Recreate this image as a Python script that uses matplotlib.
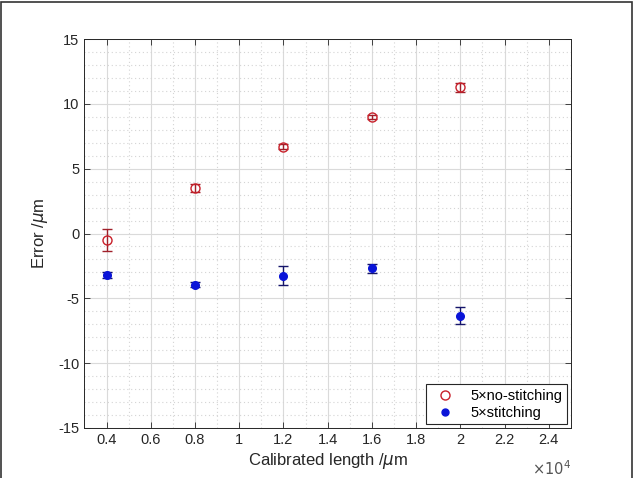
import matplotlib.pyplot as plt
from matplotlib.ticker import MultipleLocator, FuncFormatter
from matplotlib.patches import Rectangle
from matplotlib.lines import Line2D

# data (x in micrometres)
length = [4000, 8000, 12000, 16000, 20000]
nostitch_err = [-0.5, 3.5, 6.7, 9.0, 11.3]
nostitch_sd = [0.85, 0.3, 0.2, 0.15, 0.35]
stitch_err = [-3.2, -3.95, -3.25, -2.7, -6.35]
stitch_sd = [0.2, 0.2, 0.75, 0.35, 0.65]

plt.rcParams["font.family"] = ["Liberation Sans", "DejaVu Sans"]
plt.rcParams["axes.unicode_minus"] = False

red = "#c8202a"
blue = "#0a14d8"

fig = plt.figure(figsize=(6.35, 4.78), dpi=100)
ax = fig.add_axes([0.133, 0.105, 0.766, 0.813])

ax.errorbar(length, nostitch_err, yerr=nostitch_sd, fmt="o", mfc="none",
            mec=red, ms=6.5, mew=1.0, ecolor="#a0202a", elinewidth=1.0,
            capsize=3.5, zorder=3)
ax.errorbar(length, stitch_err, yerr=stitch_sd, fmt="o", color=blue,
            ms=5.5, ecolor="#15156a", elinewidth=1.0, capsize=3.5, zorder=3)

ax.set_xlim(3000, 25000)
ax.set_ylim(-15, 15)
ax.xaxis.set_major_locator(MultipleLocator(2000))
ax.xaxis.set_minor_locator(MultipleLocator(1000))
ax.yaxis.set_major_locator(MultipleLocator(5))
ax.yaxis.set_minor_locator(MultipleLocator(1))
ax.xaxis.set_major_formatter(FuncFormatter(lambda v, p: f"{v / 1e4:g}"))

ax.grid(which="major", color="#dadada", lw=0.8)
ax.grid(which="minor", color="#d4d4d4", lw=0.8, ls=(0, (1, 2.5)))
ax.set_axisbelow(True)

ax.tick_params(which="both", direction="in", top=True, right=True,
               colors="#262626", labelsize=10.5, width=0.6)
ax.tick_params(which="major", length=4)
ax.tick_params(which="minor", length=0)
for s in ax.spines.values():
    s.set_color("#262626")
    s.set_linewidth(0.7)

ax.set_xlabel(r"Calibrated length /$\mu$m", fontsize=12, color="#262626",
              labelpad=3)
ax.set_ylabel(r"Error /$\mu$m", fontsize=12, color="#262626", labelpad=6)
ax.text(1.0, -0.105, r"$\times10^4$", transform=ax.transAxes, ha="right",
        va="center", fontsize=10.5, color="#555555")

handles = [
    Line2D([], [], ls="none", marker="o", mfc="none", mec=red, ms=6.5, mew=1.0),
    Line2D([], [], ls="none", marker="o", color=blue, ms=5),
]
labels = ["5\u00d7no-stitching", "5\u00d7stitching"]
leg = ax.legend(handles, labels, loc="lower right", fancybox=False,
                edgecolor="#262626", framealpha=1, fontsize=10.5,
                borderaxespad=0.25, handletextpad=0.8, handlelength=2.0,
                borderpad=0.3, labelspacing=0.2)
leg.get_frame().set_linewidth(0.8)

# outer frame of the picture
fig.patches.append(Rectangle((0.002, -0.05), 0.994, 1.046,
                             transform=fig.transFigure, fill=False,
                             ec="#333333", lw=1.2))

fig.savefig("out.png", dpi=100)
